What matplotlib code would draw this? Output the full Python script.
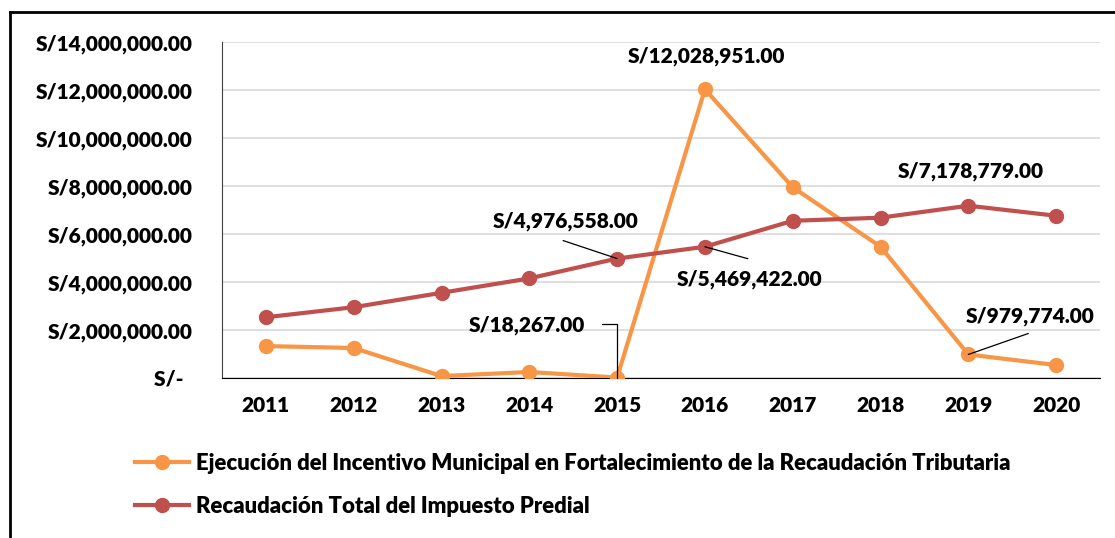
import matplotlib.pyplot as plt
from matplotlib.lines import Line2D
from matplotlib.ticker import FuncFormatter

# Data
years = ['2011', '2012', '2013', '2014', '2015', '2016', '2017', '2018', '2019', '2020']
incentivo = [1330000, 1250000, 80000, 250000, 18267, 12028951, 7950000, 5470000, 979774, 540000]
predial = [2530000, 2950000, 3550000, 4150000, 4976558, 5469422, 6550000, 6680000, 7178779, 6760000]
label_incentivo = 'Ejecución del Incentivo Municipal en Fortalecimiento de la Recaudación Tributaria'
label_predial = 'Recaudación Total del Impuesto Predial'

orange = '#F79646'
red = '#C0504D'

plt.rcParams['font.family'] = ['Lato', 'DejaVu Sans']
plt.rcParams['font.weight'] = 'heavy'

fig = plt.figure(figsize=(11.15, 5.38), dpi=100)
ax = fig.add_axes([222 / 1115, 1 - 378 / 538, (1100 - 222) / 1115, (378 - 42) / 538])

x = list(range(len(years)))
ax.plot(x, incentivo, color=orange, lw=3, marker='o', ms=10, label=label_incentivo, zorder=3)
ax.plot(x, predial, color=red, lw=3, marker='o', ms=10, label=label_predial, zorder=3)

ax.set_xlim(-0.5, len(years) - 0.5)
ax.set_ylim(0, 14000000)
ax.set_yticks(range(0, 14000001, 2000000))
ax.set_xticks(x)
ax.set_xticklabels(years)


def money(v, pos):
    if v == 0:
        return 'S/-  '
    return 'S/{:,.2f}'.format(v)


fs = 15
ax.yaxis.set_major_formatter(FuncFormatter(money))
ax.tick_params(axis='both', length=0, labelsize=fs)
ax.tick_params(axis='y', pad=21)
ax.tick_params(axis='x', pad=13)
ax.grid(axis='y', color='#D9D9D9', lw=1.2)
ax.set_axisbelow(True)
for s in ['top', 'right']:
    ax.spines[s].set_visible(False)
ax.spines['left'].set_color('#404040')
ax.spines['bottom'].set_color('black')

# Data labels
ax.annotate('S/{:,.2f}'.format(incentivo[5]), (5, incentivo[5]), xytext=(1, 33),
            textcoords='offset pixels', ha='center', va='center', fontsize=fs)
ax.annotate('S/{:,.2f}'.format(predial[8]), (8, predial[8]), xytext=(2, 34),
            textcoords='offset pixels', ha='center', va='center', fontsize=fs)

lead = dict(arrowstyle='-', color='black', lw=0.9, shrinkA=0, shrinkB=0)
# 2015 predial
ax.annotate('S/{:,.2f}'.format(predial[4]), (4, predial[4]), xytext=(-52, 37),
            textcoords='offset pixels', ha='center', va='center', fontsize=fs)
ax.annotate('', (4, predial[4]), xytext=(-54, 18), textcoords='offset pixels', arrowprops=lead)
# 2016 predial
ax.annotate('S/{:,.2f}'.format(predial[5]), (5, predial[5]), xytext=(45, -33),
            textcoords='offset pixels', ha='center', va='center', fontsize=fs)
ax.annotate('', (5, predial[5]), xytext=(43, -12), textcoords='offset pixels', arrowprops=lead)
# 2015 incentivo
ax.annotate('S/{:,.2f}'.format(incentivo[4]), (4, incentivo[4]), xytext=(-90, 52),
            textcoords='offset pixels', ha='center', va='center', fontsize=fs)
ax.annotate('', (4, incentivo[4]), xytext=(-15, 54), textcoords='offset pixels',
            arrowprops=dict(lead, connectionstyle='angle,angleA=0,angleB=90,rad=0'))
# 2019 incentivo
ax.annotate('S/{:,.2f}'.format(incentivo[8]), (8, incentivo[8]), xytext=(62, 38),
            textcoords='offset pixels', ha='center', va='center', fontsize=fs)
ax.annotate('', (8, incentivo[8]), xytext=(60, 21), textcoords='offset pixels', arrowprops=lead)

# Legend
fig.legend(loc='center left', bbox_to_anchor=(135 / 1115, 1 - 485 / 538), frameon=False,
           fontsize=15.9, handlelength=2.45, handletextpad=0.3, labelspacing=1.0, borderpad=0,
           borderaxespad=0)

# Outer border (left and top only)
fig.add_artist(Line2D([10 / 1115, 10 / 1115], [0, 1 - 12 / 538], transform=fig.transFigure,
                      color='black', lw=2))
fig.add_artist(Line2D([10 / 1115, 1], [1 - 12 / 538, 1 - 12 / 538], transform=fig.transFigure,
                      color='black', lw=2))

fig.savefig('out.png', dpi=100)
